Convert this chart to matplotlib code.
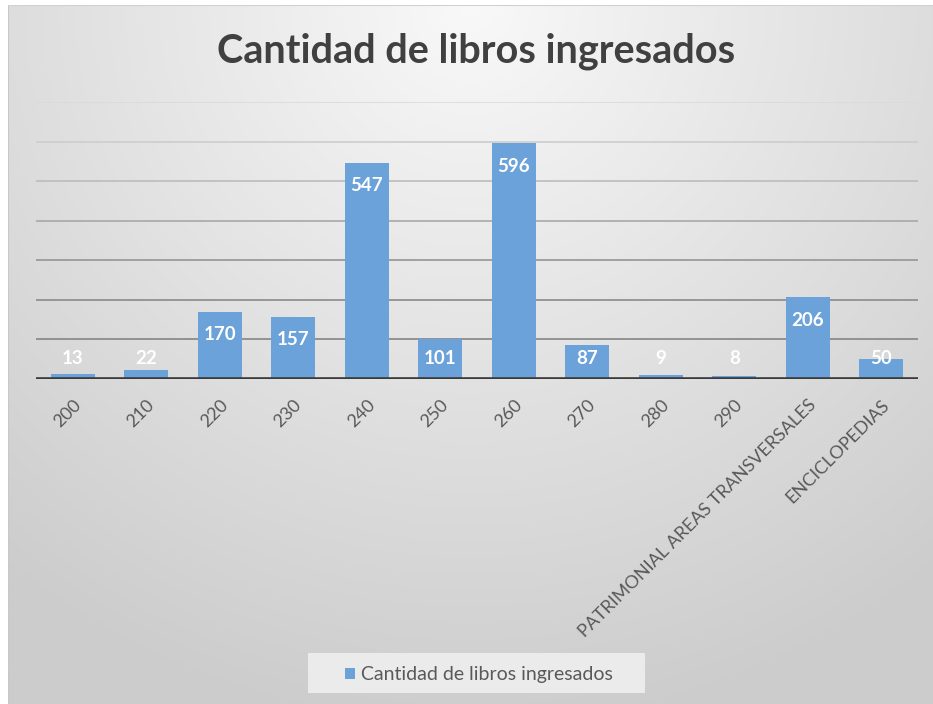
import numpy as np
import matplotlib
matplotlib.use("Agg")
import matplotlib.pyplot as plt
from matplotlib.patches import Rectangle

categories = ["200", "210", "220", "230", "240", "250", "260", "270", "280", "290",
              "PATRIMONIAL AREAS TRANSVERSALES", "ENCICLOPEDIAS"]
values = [13, 22, 170, 157, 547, 101, 596, 87, 9, 8, 206, 50]
series_name = "Cantidad de libros ingresados"
title = "Cantidad de libros ingresados"
y_max = 700
grid_values = [100, 200, 300, 400, 500, 600, 700]

plt.rcParams['font.family'] = ['Lato', 'DejaVu Sans']

W, H = 933, 704
fig = plt.figure(figsize=(W / 100, H / 100), dpi=100)
fig.patch.set_facecolor("white")

# gradient background frame
bg = fig.add_axes([8 / W, 0, 1 - 8 / W, 1 - 5 / H], zorder=-5)
ny, nx = 300, 400
yy, xx = np.mgrid[0:ny, 0:nx]
xn = (xx / (nx - 1) - 0.5) * 1.3
yn = yy / (ny - 1)
r = np.sqrt(xn ** 2 + (yn * 1.0) ** 2)
r = np.clip(r / 1.05, 0, 1)
val = 0.975 - 0.175 * r
img = np.dstack([val, val, val])
bg.imshow(img, aspect="auto", extent=[0, 1, 0, 1], origin="upper")
bg.set_xlim(0, 1)
bg.set_ylim(0, 1)
bg.axis("off")
bg.add_line(plt.Line2D([0, 0], [0, 1], color="#c8c8c8", lw=1.5, transform=bg.transAxes))
bg.add_line(plt.Line2D([0, 1], [1, 1], color="#d0d0d0", lw=1.5, transform=bg.transAxes))

left, right = 36 / W, 918 / W
bottom, top = 1 - 379 / H, 1 - 102 / H
ax = fig.add_axes([left, bottom, right - left, top - bottom])
ax.set_facecolor("none")

x = np.arange(len(categories))
ax.bar(x, values, width=0.6, color="#6aa2d9", zorder=3)
ax.set_xlim(-0.5, len(categories) - 0.5)
ax.set_ylim(0, y_max)

grid_cols = ["#858585", "#8a8a8a", "#959595", "#a8a8a8", "#bcbcbc", "#cdcdcd", "#dadada"]
for gv, gc in zip(grid_values, grid_cols):
    ax.axhline(gv, color=gc, lw=1.2, zorder=1)
ax.axhline(0, color="#3a3a3a", lw=2.6, zorder=4)

for s in ax.spines.values():
    s.set_visible(False)
ax.set_yticks([])
ax.set_xticks(x)
ax.set_xticklabels(categories, rotation=45, ha="right", rotation_mode="anchor",
                   fontsize=13, color="#595959")
ax.tick_params(axis="x", length=0, pad=13)

for xi, v in zip(x, values):
    yl = max(v - 58, 53)
    ax.text(xi, yl, str(v), ha="center", va="center", color="white",
            fontsize=13.5, fontweight="bold", zorder=5)

fig.text(476 / W, 1 - 63 / H, title, ha="center", va="baseline",
         fontsize=28.5, fontweight="bold", color="#404040")

# legend
fig.patches.append(Rectangle((308 / W, 1 - 693 / H), 337 / W, 40 / H,
                             transform=fig.transFigure, facecolor="#ebebeb",
                             edgecolor="none", zorder=1))
fig.patches.append(Rectangle((345 / W, 1 - 679 / H), 10 / W, 11 / H,
                             transform=fig.transFigure, facecolor="#6aa2d9",
                             edgecolor="none", zorder=2))
fig.text(361 / W, 1 - 680 / H, series_name, ha="left", va="baseline",
         fontsize=14, color="#595959")

fig.savefig("out.png", dpi=100)
